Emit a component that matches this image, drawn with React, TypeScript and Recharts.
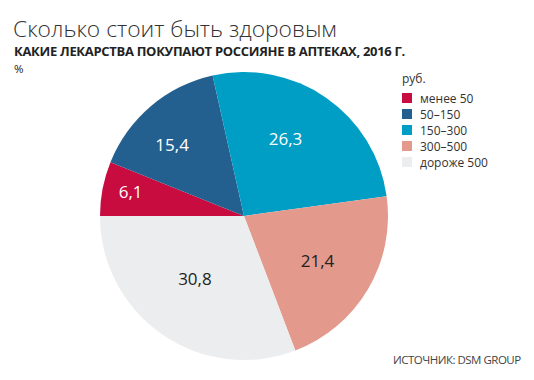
import React from 'react';
import { PieChart, Pie, Cell, Legend } from 'recharts';

const categories = ['менее 50', '50–150', '150–300', '300–500', 'дороже 500'];
const shares = [6.1, 15.4, 26.3, 21.4, 30.8];
const colors = ['#C80C3F', '#23608F', '#009EC4', '#E3998C', '#ECEDEE'];
const labelColors = ['#ffffff', '#ffffff', '#ffffff', '#222222', '#222222'];

const data = categories.map((name, i) => ({ name, value: shares[i] }));

// hand tweaks so labels sit where the original put them
const labelNudge = [[-5, -3], [-8, 4], [-7, -8], [-5, -2], [-4, -3]];

const RAD = Math.PI / 180;

// small slices get their label pushed further out
const renderLabel = (props: any) => {
  const { cx, cy, midAngle, outerRadius, index, percent } = props;
  const r = outerRadius * (0.55 + 0.27 * (1 - percent / 0.31));
  const x = cx + r * Math.cos(-midAngle * RAD) + labelNudge[index][0];
  const y = cy + r * Math.sin(-midAngle * RAD) + labelNudge[index][1];
  return (
    <text
      x={x}
      y={y}
      fill={labelColors[index]}
      textAnchor="middle"
      dominantBaseline="central"
      fontSize={17}
      fontFamily="'Open Sans', sans-serif"
    >
      {shares[index].toFixed(1).replace('.', ',')}
    </text>
  );
};

const renderLegend = () => (
  <div style={{ fontFamily: "'Open Sans', sans-serif", fontSize: 12, color: '#333' }}>
    <div style={{ marginBottom: 3 }}>руб.</div>
    {categories.map((c, i) => (
      <div key={c} style={{ display: 'flex', alignItems: 'center', height: 16 }}>
        <span style={{ width: 10, height: 10, background: colors[i], marginRight: 8, display: 'inline-block' }} />
        <span>{c}</span>
      </div>
    ))}
  </div>
);

export default function App() {
  return (
    <div style={{ position: 'absolute', left: 0, top: 0, width: 534, height: 380, background: '#fff' }}>
      <div style={{ position: 'absolute', left: 13, top: 13, fontFamily: "'Open Sans', sans-serif", fontWeight: 300, fontSize: 22.8, color: '#333', whiteSpace: 'nowrap' }}>
        Сколько стоит быть здоровым
      </div>
      <div style={{ position: 'absolute', left: 14, top: 45, lineHeight: '13px', fontFamily: "'Open Sans', sans-serif", fontWeight: 700, fontSize: 13, color: '#222', whiteSpace: 'nowrap', letterSpacing: -0.3 }}>
        КАКИЕ ЛЕКАРСТВА ПОКУПАЮТ РОССИЯНЕ В АПТЕКАХ, 2016 Г.
      </div>
      <div style={{ position: 'absolute', left: 14, top: 63, lineHeight: '11px', fontFamily: "'Open Sans', sans-serif", fontSize: 11.5, color: '#222' }}>%</div>
      <PieChart width={534} height={380} margin={{ top: 0, right: 0, bottom: 0, left: 0 }} style={{ position: 'absolute', left: 0, top: 0 }}>
        <Pie
          data={data}
          dataKey="value"
          nameKey="name"
          cx={244}
          cy={216}
          outerRadius={144}
          startAngle={180}
          endAngle={-180}
          stroke="none"
          label={renderLabel}
          labelLine={false}
          isAnimationActive={false}
        >
          {data.map((d, i) => (
            <Cell key={d.name} fill={colors[i]} />
          ))}
        </Pie>
        <Legend content={renderLegend} layout="vertical" wrapperStyle={{ left: 402, top: 70, width: 120 }} />
      </PieChart>
      <div style={{ position: 'absolute', left: 393, top: 352, fontFamily: "'Open Sans', sans-serif", fontSize: 11.5, color: '#444', letterSpacing: -0.5, whiteSpace: 'nowrap' }}>
        ИСТОЧНИК: DSM GROUP
      </div>
    </div>
  );
}
